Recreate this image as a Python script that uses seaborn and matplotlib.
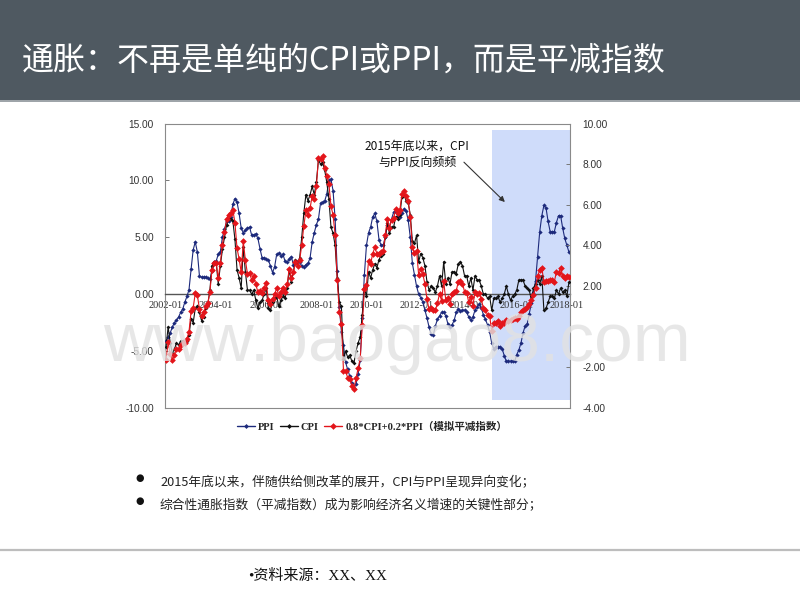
import numpy as np
import pandas as pd
import matplotlib
matplotlib.use('Agg')
import matplotlib.pyplot as plt
import seaborn as sns
from matplotlib.patches import Rectangle
from matplotlib.lines import Line2D
from matplotlib.font_manager import FontProperties

sns.set_style('white')
plt.rcParams['font.family'] = ['Noto Sans CJK SC', 'DejaVu Sans']
plt.rcParams['axes.unicode_minus'] = False

# ---------------- data (monthly YoY, %) ----------------
start_month = '2002-01'
ppi = [
    -4.1, -3.8, -3.4, -2.9, -2.5, -2.3, -2.0, -1.6, -1.3, -0.7, -0.2, 0.4,   # 2002
    2.2, 3.9, 4.6, 3.7, 1.6, 1.5, 1.5, 1.5, 1.4, 1.3, 2.0, 2.8,              # 2003
    2.9, 3.5, 3.7, 5.0, 5.7, 6.4, 6.4, 6.8, 7.9, 8.4, 8.1, 7.1,              # 2004
    5.8, 5.4, 5.6, 5.8, 5.9, 5.2, 5.2, 5.3, 4.9, 4.0, 3.2, 3.2,              # 2005
    3.1, 3.0, 2.5, 1.9, 2.4, 3.5, 3.6, 3.4, 3.5, 2.9, 2.8, 3.1,              # 2006
    3.3, 2.6, 2.7, 2.9, 2.8, 2.5, 2.4, 2.6, 2.7, 3.2, 4.6, 5.4,              # 2007
    6.1, 6.6, 8.0, 8.1, 8.2, 8.8, 10.0, 10.1, 9.1, 6.6, 2.0, -1.1,           # 2008
    -3.3, -4.5, -6.0, -6.6, -7.2, -7.8, -8.2, -7.9, -7.0, -5.8, -2.1, 1.7,   # 2009
    4.3, 5.4, 5.9, 6.8, 7.1, 6.4, 4.8, 4.3, 4.3, 5.0, 6.1, 5.9,              # 2010
    6.6, 7.2, 7.3, 6.8, 6.8, 7.1, 7.5, 7.3, 6.5, 5.0, 2.7, 1.7,              # 2011
    0.7, 0.0, -0.3, -0.7, -1.4, -2.1, -2.9, -3.5, -3.6, -2.8, -2.2, -1.9,    # 2012
    -1.6, -1.6, -1.9, -2.6, -2.9, -2.7, -2.3, -1.6, -1.3, -1.5, -1.4, -1.4,  # 2013
    -1.6, -2.0, -2.3, -2.0, -1.4, -1.1, -0.9, -1.2, -1.8, -2.2, -2.7, -3.3,  # 2014
    -4.3, -4.8, -4.6, -4.6, -4.6, -4.8, -5.4, -5.9, -5.9, -5.9, -5.9, -5.9,  # 2015
    -5.3, -4.9, -4.3, -3.4, -2.8, -2.6, -1.7, -0.8, 0.1, 1.2, 3.3, 5.5,      # 2016
    6.9, 7.8, 7.6, 6.4, 5.5, 5.5, 5.5, 6.3, 6.9, 6.9, 5.8, 4.9,              # 2017
    4.3, 3.7,                                                                # 2018
]
cpi = [
    -1.0, 0.0, -0.8, -1.3, -1.1, -0.8, -0.9, -0.7, -0.7, -0.8, -0.7, -0.4,
    0.4, 0.2, 0.9, 1.0, 0.7, 0.3, 0.5, 0.9, 1.1, 1.8, 3.0, 3.2,
    3.2, 2.1, 3.0, 3.8, 4.4, 5.0, 5.3, 5.3, 5.2, 4.3, 2.8, 2.4,
    1.9, 3.9, 2.7, 1.8, 1.8, 1.6, 1.8, 1.3, 0.9, 1.2, 1.3, 1.6,
    1.9, 0.9, 0.8, 1.2, 1.4, 1.5, 1.0, 1.3, 1.5, 1.4, 1.9, 2.8,
    2.2, 2.7, 3.3, 3.0, 3.4, 4.4, 5.6, 6.5, 6.2, 6.5, 6.9, 6.5,
    7.1, 8.2, 8.0, 8.1, 7.7, 7.1, 6.3, 4.9, 4.6, 4.0, 2.4, 1.2,
    1.0, -1.6, -1.2, -1.5, -1.4, -1.7, -1.8, -1.2, -0.8, -0.5, 0.6, 1.9,
    1.5, 2.7, 2.4, 2.8, 3.1, 2.9, 3.3, 3.5, 3.6, 4.4, 5.1, 4.6,
    4.9, 4.9, 5.4, 5.3, 5.5, 6.4, 6.5, 6.2, 6.1, 5.5, 4.2, 4.1,
    4.5, 3.2, 3.6, 3.4, 3.0, 2.2, 1.8, 2.0, 1.9, 1.7, 2.0, 2.5,
    2.0, 3.2, 2.1, 2.4, 2.1, 2.7, 2.7, 2.6, 3.1, 3.2, 3.0, 2.5,
    2.5, 2.0, 2.4, 1.8, 2.5, 2.3, 2.3, 2.0, 1.6, 1.6, 1.4, 1.5,
    0.8, 1.4, 1.4, 1.5, 1.2, 1.4, 1.6, 2.0, 1.6, 1.3, 1.5, 1.6,
    1.8, 2.3, 2.3, 2.3, 2.0, 1.9, 1.8, 1.3, 1.9, 2.1, 2.3, 2.1,
    2.5, 0.8, 0.9, 1.2, 1.5, 1.5, 1.4, 1.8, 1.6, 1.9, 1.7, 1.8,
    1.5, 2.2,
]
deflator = [
    -1.62, -0.76, -1.32, -1.62, -1.38, -1.10, -1.12, -0.88, -0.82, -0.78, -0.60, -0.24,
    0.76, 0.94, 1.64, 1.54, 0.88, 0.54, 0.70, 1.02, 1.16, 1.70, 2.80, 3.12,
    3.14, 2.38, 3.14, 4.04, 4.66, 5.28, 5.52, 5.60, 5.74, 5.12, 3.86, 3.34,
    2.68, 4.20, 3.28, 2.60, 2.62, 2.32, 2.48, 2.10, 1.70, 1.76, 1.68, 1.92,
    2.14, 1.32, 1.14, 1.34, 1.60, 1.90, 1.52, 1.72, 1.90, 1.70, 2.08, 2.86,
    2.42, 2.68, 3.18, 2.98, 3.28, 4.02, 4.96, 5.72, 5.50, 5.84, 6.44, 6.28,
    6.90, 8.28, 8.24, 8.42, 7.80, 7.44, 7.04, 5.94, 5.50, 4.52, 2.32, 0.74,
    0.14, -2.18, -2.16, -2.52, -2.56, -2.92, -3.08, -2.54, -2.04, -1.56, 0.06, 1.86,
    2.06, 3.24, 3.10, 3.60, 3.90, 3.60, 3.60, 3.66, 3.74, 4.52, 5.30, 4.86,
    5.24, 5.36, 5.78, 5.60, 5.76, 6.54, 6.70, 6.42, 6.18, 5.40, 3.90, 3.62,
    3.74, 2.56, 2.82, 2.58, 2.12, 1.34, 0.86, 0.90, 0.80, 0.80, 1.16, 1.62,
    1.28, 2.24, 1.30, 1.40, 1.10, 1.62, 1.70, 1.76, 2.22, 2.26, 2.12, 1.72,
    1.68, 1.20, 1.46, 1.04, 1.72, 1.62, 1.66, 1.36, 0.92, 0.84, 0.58, 0.54,
    -0.22, 0.16, 0.20, 0.28, 0.04, 0.16, 0.20, 0.32, 0.30, 0.35, 0.40, 0.45,
    0.40, 0.55, 0.70, 0.80, 0.85, 0.95, 1.10, 1.30, 1.54, 1.92, 2.50, 2.78,
    2.90, 2.20, 2.24, 2.24, 2.30, 2.30, 2.22, 2.70, 2.66, 2.90, 2.52, 2.42,
    2.50, 2.45,
]
x_tick_labels = ['2002-01', '2004-01', '2006-01', '2008-01', '2010-01',
                 '2012-01', '2014-01', '2016-01', '2018-01']
left_ticks = [15, 10, 5, 0, -5, -10]
right_ticks = [10, 8, 6, 4, 2, -2, -4]
series_names = ['PPI', 'CPI', '0.8*CPI+0.2*PPI（模拟平减指数）']

months = pd.period_range(start_month, periods=len(ppi), freq='M').strftime('%Y-%m')
df = pd.DataFrame({'t': np.arange(len(ppi)), 'month': months,
                   'PPI': ppi, 'CPI': cpi, 'MIX': deflator})
tick_pos = [int(df.index[df['month'] == lab][0]) for lab in x_tick_labels]

# ---------------- figure ----------------
W, H = 800, 600
fig = plt.figure(figsize=(8, 6), dpi=100)
fig.patch.set_facecolor('white')

def fx(px):
    return px / W

def fy(py):
    return 1 - py / H

# header banner
fig.add_artist(Rectangle((0, fy(100)), 1, 100 / H, transform=fig.transFigure,
                         facecolor='#4f5961', edgecolor='none', zorder=0))
fig.add_artist(Line2D([0, 1], [fy(100.5), fy(100.5)], transform=fig.transFigure,
                      color='#8b9298', lw=1.2, zorder=1))
fig.text(fx(22), fy(61), '通胀：不再是单纯的CPI或PPI，而是平减指数',
         color='white', fontsize=23, ha='left', va='center',
         family=['Noto Sans CJK SC', 'DejaVu Sans'])

# plot axes
ax = fig.add_axes([fx(165), fy(408), 405 / W, 284.5 / H])
ax.set_facecolor('white')
ax2 = ax.twinx()

PPI_C = '#1d2a7c'
CPI_C = '#111111'
MIX_C = '#e3151b'

# shaded window
ax.add_patch(Rectangle((155.9, -9.27), 193.5 - 155.9, 14.4 + 9.27,
                       facecolor='#cfdcfa', edgecolor='none', zorder=0))

sns.lineplot(data=df, x='t', y='PPI', ax=ax, color=PPI_C, lw=0.8,
             marker='D', markersize=2.2, markeredgewidth=0, legend=False, zorder=3)
sns.lineplot(data=df, x='t', y='CPI', ax=ax2, color=CPI_C, lw=0.8,
             marker='D', markersize=2.0, markeredgewidth=0, legend=False, zorder=3)
sns.lineplot(data=df, x='t', y='MIX', ax=ax2, color=MIX_C, lw=0.8,
             marker='D', markersize=3.4, markeredgewidth=0, legend=False, zorder=4)

ax.set_xlim(-0.5, 193.5)
ax.set_ylim(-10, 15)
ax2.set_ylim(-4, 10)
ax.set_xlabel('')
ax.set_ylabel('')
ax2.set_ylabel('')

# spines first (moving a spine resets the ticks)
ax.spines['bottom'].set_position(('data', 0))
ax.spines['bottom'].set_color('#555555')
ax.spines['bottom'].set_linewidth(1.0)
for s in ['top', 'right']:
    ax.spines[s].set_visible(False)
ax.spines['left'].set_color('#8a8a8a')
ax.spines['left'].set_linewidth(0.8)
for s in ['top', 'right', 'bottom']:
    ax2.spines[s].set_color('#8a8a8a')
    ax2.spines[s].set_linewidth(0.8)
ax2.spines['left'].set_visible(False)
ax.grid(False)
ax2.grid(False)

ax.tick_params(axis='y', direction='in', length=3, width=0.7, color='#777777', pad=8)
ax2.tick_params(axis='y', direction='in', length=3, width=0.7, color='#777777', pad=9)
ax.tick_params(axis='x', direction='in', length=3, width=0.7, color='#555555', pad=5)

num_font = FontProperties(family=['Liberation Sans', 'DejaVu Sans'], size=7.3)
date_font = FontProperties(family=['Liberation Serif', 'DejaVu Serif'], size=7.4)
ax.set_yticks(left_ticks)
ax.set_yticklabels([f'{v:.2f}' for v in left_ticks], fontproperties=num_font,
                   color='#333333')
ax2.set_yticks(right_ticks)
ax2.set_yticklabels([f'{v:.2f}' for v in right_ticks], fontproperties=num_font,
                    color='#333333')
ax.set_xticks(tick_pos)
ax.set_xticklabels(x_tick_labels, fontproperties=date_font, color='#333333')

# annotation
ax.text(120.2, 12.3, '2015年底以来，CPI\n与PPI反向频频', ha='center', va='center',
        fontsize=8.6, color='#111111', linespacing=1.25, zorder=6,
        family=['Noto Sans CJK SC', 'DejaVu Sans'])
ax.annotate('', xy=(162.3, 8.1), xytext=(142.7, 11.6),
            arrowprops=dict(arrowstyle='-|>', color='#333333', lw=0.8,
                            mutation_scale=8, shrinkA=0, shrinkB=0), zorder=6)

# legend
handles = [
    Line2D([], [], color=PPI_C, lw=1, marker='D', markersize=2.5, markeredgewidth=0),
    Line2D([], [], color=CPI_C, lw=1, marker='D', markersize=2.5, markeredgewidth=0),
    Line2D([], [], color=MIX_C, lw=1, marker='D', markersize=3.4, markeredgewidth=0),
]
leg_font = FontProperties(family=['Liberation Serif', 'Noto Sans CJK SC'], size=7.6,
                          weight='bold')
fig.legend(handles, series_names, loc='center', bbox_to_anchor=(fx(372), fy(427)),
           ncol=3, frameon=False, prop=leg_font, handlelength=1.7,
           handletextpad=0.3, columnspacing=0.5, borderaxespad=0)

# watermark
fig.text(fx(397), fy(343), 'www.baogao8.com', fontsize=50, ha='center', va='center',
         color='#e2e2e2', alpha=0.8, family=['Liberation Sans', 'DejaVu Sans'], zorder=20)

# bullet text
bullets = ['2015年底以来，伴随供给侧改革的展开，CPI与PPI呈现异向变化；',
           '综合性通胀指数（平减指数）成为影响经济名义增速的关键性部分；']
for by, ty, txt in [(478, 483, bullets[0]), (501, 506, bullets[1])]:
    fig.text(fx(140), fy(by), '●', fontsize=7, ha='center', va='center', color='#111111',
             family=['DejaVu Sans'])
    fig.text(fx(160), fy(ty), txt, fontsize=9.2, ha='left', va='center', color='#222222',
             family=['Noto Sans CJK SC', 'DejaVu Sans'])

# footer separator + source
fig.add_artist(Line2D([0, 1], [fy(549.5), fy(549.5)], transform=fig.transFigure,
                      color='#bdbdbd', lw=1.6))
fig.text(fx(248), fy(576), '•资料来源：XX、XX', fontsize=10.8, ha='left', va='center',
         color='#111111', family=['Liberation Serif', 'Noto Sans CJK SC'])

fig.savefig('out.png', dpi=100)
